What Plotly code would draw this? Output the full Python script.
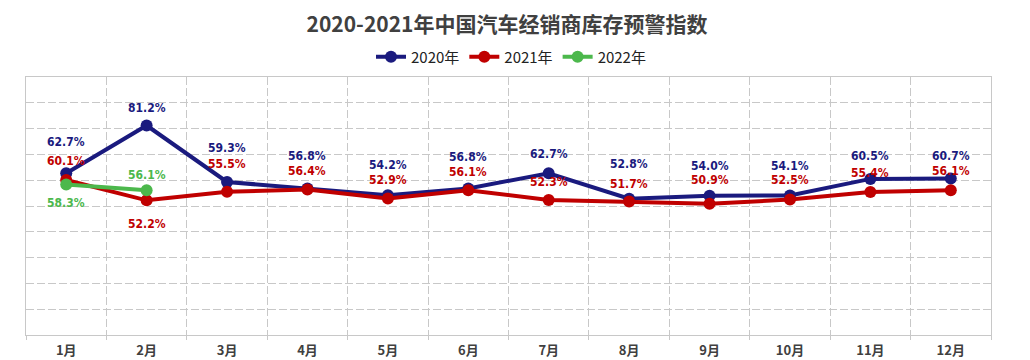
import plotly.graph_objects as go

months = ["1月", "2月", "3月", "4月", "5月", "6月", "7月", "8月", "9月", "10月", "11月", "12月"]
series_names = ["2020年", "2021年", "2022年"]
v2020 = [62.7, 81.2, 59.3, 56.8, 54.2, 56.8, 62.7, 52.8, 54.0, 54.1, 60.5, 60.7]
v2021 = [60.1, 52.2, 55.5, 56.4, 52.9, 56.1, 52.3, 51.7, 50.9, 52.5, 55.4, 56.1]
v2022 = [58.3, 56.1]

# styles
colors = ["#1a1a7e", "#c00000", "#4cb84c"]
label_shift = [
    [31, 18, 34, 32, 30, 31, 19, 35, 30, 29, 23, 22],
    [19, -24, 28, 18, 19, 18, 18, 18, 24, 20, 19, 19],
    [-18, 15],
]
label_font = "DejaVu Sans Condensed"

# page has an 8px body margin; figure is sized/offset to compensate
W, H = 1022, 352

fig = go.Figure()
annotations = []
for name, vals, col, shifts in zip(series_names, [v2020, v2021, v2022], colors, label_shift):
    xs = months[:len(vals)]
    fig.add_trace(go.Scatter(
        x=xs, y=vals, name=name, mode="lines+markers",
        line=dict(color=col, width=4),
        marker=dict(color=col, size=12),
    ))
    for x, v, s in zip(xs, vals, shifts):
        annotations.append(dict(
            x=x, y=v, xref="x", yref="y", text=f"<b>{v:.1f}%</b>", showarrow=False,
            yshift=s, font=dict(family=label_font, size=12, color=col),
        ))

grid = "#c8c8c8"
fig.update_layout(
    width=W, height=H,
    margin=dict(l=18, r=39, t=69, b=25, autoexpand=False),
    paper_bgcolor="white", plot_bgcolor="white",
    title=dict(text="<b>2020-2021年中国汽车经销商库存预警指数</b>", xref="container", x=499 / W,
               xanchor="center", yref="container", y=1 - 17 / H, yanchor="middle",
               font=dict(family="Noto Sans CJK SC", size=21, color="#404040")),
    legend=dict(orientation="h", xref="container", x=503 / W, xanchor="center",
                yref="container", y=1 - 49 / H, yanchor="middle",
                font=dict(family="Noto Sans CJK SC, Noto Sans", size=15, color="#222222"),
                itemwidth=30, bgcolor="rgba(0,0,0,0)"),
    annotations=annotations,
    showlegend=True,
)
fig.update_xaxes(
    type="category", categoryorder="array", categoryarray=months,
    range=[-0.5, 11.5], tickson="boundaries",
    showgrid=True, gridcolor=grid, griddash="8px,3px", gridwidth=1,
    showline=True, linecolor=grid, linewidth=1, mirror=True,
    ticks="outside", ticklen=4, tickcolor=grid,
    ticklabelstandoff=3,
    tickfont=dict(family="Noto Sans CJK SC, Noto Sans", size=13, color="#404040", weight="bold"),
)
fig.update_yaxes(
    range=[0, 100], dtick=10, showticklabels=False,
    showgrid=True, gridcolor=grid, griddash="8px,3px", gridwidth=1,
    showline=True, linecolor=grid, linewidth=1, mirror=True, zeroline=False,
)
fig.write_html("out.html")
